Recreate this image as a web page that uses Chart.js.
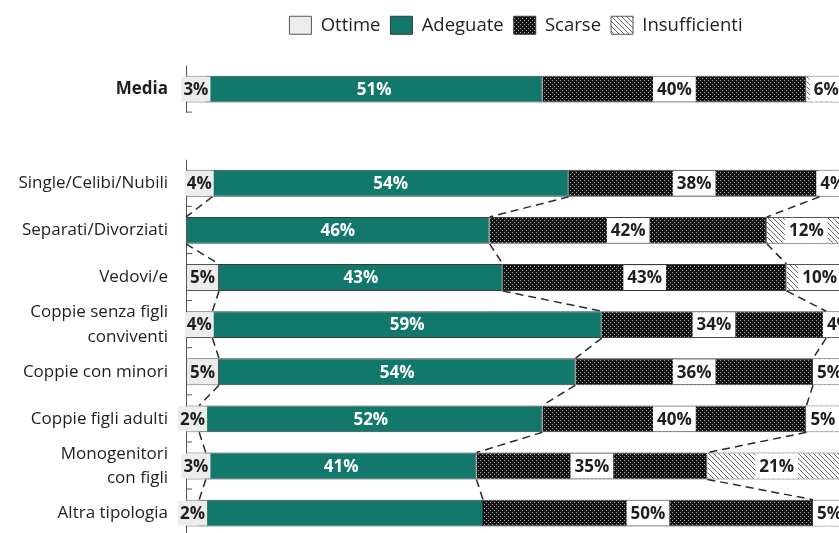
<!DOCTYPE html>
<html>
<head>
<meta charset="utf-8">
<script src="https://cdn.jsdelivr.net/npm/chart.js@4.4.1/dist/chart.umd.min.js"></script>
<style>
  html, body { margin: 0; padding: 0; background: #fff; overflow: hidden; }
  #wrap { width: 839px; height: 533px; overflow: hidden; }
</style>
</head>
<body>
<div id="wrap"><canvas id="chart" width="860" height="567"></canvas></div>
<script>
// rows ('' leaves a blank row between the average and the household types)
const categories = [
    'Media', '',
    'Single/Celibi/Nubili', 'Separati/Divorziati', 'Vedovi/e',
    ['Coppie senza figli', 'conviventi'], 'Coppie con minori', 'Coppie figli adulti',
    ['Monogenitori', 'con figli'], 'Altra tipologia'
];
const ottime        = [3, null, 4, 0, 5, 4, 5, 2, 3, 2];
const adeguate      = [51, null, 54, 46, 43, 59, 54, 52, 41, 43];
const scarse        = [40, null, 38, 42, 43, 34, 36, 40, 35, 50];
const insufficienti = [6, null, 4, 12, 10, 4, 5, 5, 21, 5];
// segment whose value is not printed
const unlabeled = { Adeguate: ['Altra tipologia'] };

function dotPattern() {
    const c = document.createElement('canvas');
    c.width = 4; c.height = 4;
    const g = c.getContext('2d');
    g.fillStyle = '#151515';
    g.fillRect(0, 0, 4, 4);
    g.fillStyle = '#a8a8a8';
    g.fillRect(0, 0, 1, 1);
    g.fillRect(2, 2, 1, 1);
    return g.createPattern(c, 'repeat');
}

function hatchPattern() {
    const c = document.createElement('canvas');
    c.width = 5; c.height = 5;
    const g = c.getContext('2d');
    g.fillStyle = '#ffffff';
    g.fillRect(0, 0, 5, 5);
    g.strokeStyle = '#6a6a6a';
    g.lineWidth = 1;
    g.beginPath();
    g.moveTo(-1, -1); g.lineTo(6, 6);
    g.moveTo(-1, 4); g.lineTo(1, 6);
    g.moveTo(4, -1); g.lineTo(6, 1);
    g.stroke();
    return g.createPattern(c, 'repeat');
}

Chart.defaults.font.family = '"Open Sans", sans-serif';
Chart.defaults.font.size = 17;
Chart.defaults.color = '#1e1e1e';

// extra room under the legend
const legendGap = {
    id: 'legendGap',
    beforeLayout(chart) {
        const lg = chart.legend;
        if (lg && !lg._gapped) {
            const fit = lg.fit;
            lg.fit = function () { fit.call(this); this.height += 21; };
            lg._gapped = true;
        }
    }
};

// category axis drawn in pieces, skipping the blank row
const axisLine = {
    id: 'axisLine',
    afterDatasetsDraw(chart) {
        const ctx = chart.ctx;
        const y = chart.scales.y;
        const x0 = chart.chartArea.left;
        const slot = y.getPixelForValue(1) - y.getPixelForValue(0);
        ctx.save();
        ctx.strokeStyle = '#555';
        ctx.lineWidth = 1;
        categories.forEach((c, i) => {
            if (c === '') return;
            const yc = y.getPixelForValue(i);
            ctx.beginPath();
            ctx.moveTo(x0 + 0.5, yc - slot / 2);
            ctx.lineTo(x0 + 0.5, yc + slot / 2);
            ctx.moveTo(x0, yc + slot / 2 - 0.5);
            ctx.lineTo(x0 + 6, yc + slot / 2 - 0.5);
            ctx.stroke();
        });
        ctx.restore();
    }
};

// dashed series lines joining segment ends of consecutive bars
const seriesLines = {
    id: 'seriesLines',
    afterDatasetsDraw(chart) {
        const ctx = chart.ctx;
        ctx.save();
        ctx.strokeStyle = '#2a2a2a';
        ctx.lineWidth = 1.5;
        ctx.setLineDash([8, 5]);
        for (let di = 0; di < 3; di++) {
            const bars = chart.getDatasetMeta(di).data;
            for (let i = 2; i < categories.length - 1; i++) {
                const a = bars[i].getProps(['x', 'y', 'height'], true);
                const b = bars[i + 1].getProps(['x', 'y', 'height'], true);
                ctx.beginPath();
                ctx.moveTo(a.x, a.y + a.height / 2);
                ctx.lineTo(b.x, b.y - b.height / 2);
                ctx.stroke();
            }
        }
        ctx.restore();
    }
};

// percentage labels centred in each segment
const segLabels = {
    id: 'segLabels',
    afterDatasetsDraw(chart) {
        const ctx = chart.ctx;
        ctx.save();
        ctx.font = 'bold 17px "Open Sans", sans-serif';
        ctx.textAlign = 'center';
        ctx.textBaseline = 'middle';
        chart.data.datasets.forEach((ds, di) => {
            const skip = unlabeled[ds.label] || [];
            chart.getDatasetMeta(di).data.forEach((bar, i) => {
                const v = ds.data[i];
                if (!v || skip.includes(categories[i])) return;
                const p = bar.getProps(['x', 'y', 'base', 'height'], true);
                const text = v + '%';
                const w = ctx.measureText(text).width + (ds.boxPad || 0);
                const cx = (p.x + p.base) / 2;
                if (ds.labelBox) {
                    ctx.fillStyle = ds.labelBox;
                    ctx.fillRect(cx - w / 2, p.y - p.height / 2 + 1, w, p.height - 2);
                }
                ctx.fillStyle = ds.labelColor;
                ctx.fillText(text, cx, p.y + 1);
            });
        });
        ctx.restore();
    }
};

new Chart(document.getElementById('chart'), {
    type: 'bar',
    data: {
        labels: categories,
        datasets: [
            { label: 'Ottime', data: ottime, backgroundColor: '#ececec', borderColor: '#555', borderWidth: 1, labelColor: '#1e1e1e', labelBox: '#ececec', boxPad: 4 },
            { label: 'Adeguate', data: adeguate, backgroundColor: '#12786b', borderColor: '#3a3a3a', borderWidth: 1, labelColor: '#ffffff' },
            { label: 'Scarse', data: scarse, backgroundColor: dotPattern(), borderColor: '#3a3a3a', borderWidth: 1, labelColor: '#1e1e1e', labelBox: '#ffffff', boxPad: 8 },
            { label: 'Insufficienti', data: insufficienti, backgroundColor: hatchPattern(), borderColor: '#555', borderWidth: 1, labelColor: '#1e1e1e', labelBox: '#ffffff', boxPad: 8 }
        ]
    },
    options: {
        indexAxis: 'y',
        responsive: false,
        animation: false,
        barPercentage: 0.57,
        categoryPercentage: 1,
        layout: { padding: { top: 6, right: 14, bottom: 10, left: 0 } },
        plugins: {
            legend: {
                position: 'top',
                fullSize: false,
                labels: {
                    boxWidth: 22,
                    boxHeight: 18,
                    padding: 10,
                    color: '#222',
                    font: { size: 18.5 }
                }
            },
            tooltip: { enabled: false }
        },
        scales: {
            x: { stacked: true, min: 0, max: 100, display: false },
            y: {
                stacked: true,
                grid: { display: false, drawTicks: false },
                border: { display: false },
                ticks: {
                    autoSkip: false,
                    padding: 18,
                    color: '#1e1e1e',
                    font: (c) => ({ size: 17, lineHeight: 1.45, weight: c.tick && c.tick.label === 'Media' ? 'bold' : 'normal' })
                },
                afterFit(scale) { scale.width = 186; }
            }
        }
    },
    plugins: [legendGap, axisLine, seriesLines, segLabels]
});
</script>
</body>
</html>
